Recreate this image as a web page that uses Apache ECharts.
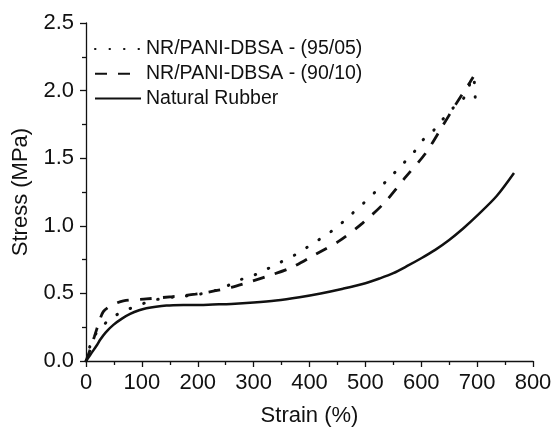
<!DOCTYPE html>
<html>
<head>
<meta charset="utf-8">
<script src="https://cdn.jsdelivr.net/npm/echarts@6/dist/echarts.min.js"></script>
<style>html,body{margin:0;padding:0;background:#fff}#c{width:554px;height:427px}</style>
</head>
<body>
<div id="c"></div>
<script>
const seriesNames = ['NR/PANI-DBSA - (95/05)', 'NR/PANI-DBSA - (90/10)', 'Natural Rubber'];
const xTicks = [0, 100, 200, 300, 400, 500, 600, 700, 800];
const yTicks = [0.0, 0.5, 1.0, 1.5, 2.0, 2.5];

const dotted9505 = [[0,0],[5,0.08],[12.5,0.17],[30,0.26],[49,0.328],[73,0.378],[96,0.415],[117,0.445],[144,0.468],[167,0.476],[200,0.492],[230,0.52],[250,0.55],[272,0.595],[298,0.63],[321,0.674],[347,0.728],[374,0.785],[398,0.847],[421,0.909],[447,0.983],[472,1.074],[497,1.168],[520,1.26],[543,1.353],[567,1.457],[588,1.55],[605,1.644],[623,1.71],[638,1.785],[659,1.88],[677,1.95],[693,2.1],[696,1.98],[698,1.87]];
const dashed9010 = [[0,0],[7,0.08],[15,0.18],[22,0.27],[31,0.365],[45,0.41],[67,0.444],[108,0.459],[155,0.476],[196,0.494],[232,0.52],[260,0.545],[281,0.57],[323,0.625],[367,0.69],[409,0.785],[454,0.89],[495,1.02],[534,1.17],[573,1.365],[608,1.538],[637,1.73],[662,1.9],[687,2.06],[693,2.1]];
const naturalRubber = [[0,0],[5,0.03],[10,0.06],[20,0.12],[25,0.155],[35,0.21],[49,0.267],[65,0.315],[79,0.348],[95,0.375],[108,0.39],[125,0.402],[144,0.41],[175,0.414],[204,0.415],[227,0.418],[260,0.422],[300,0.432],[340,0.447],[382,0.472],[420,0.5],[460,0.535],[500,0.575],[525,0.61],[550,0.65],[575,0.703],[600,0.76],[625,0.822],[650,0.895],[675,0.98],[700,1.075],[735,1.22],[766,1.39]];

const ink = '#111';
const chart = echarts.init(document.getElementById('c'), null, {renderer: 'canvas'});
const font = 'Liberation Sans, Arial, sans-serif';
chart.setOption({
  animation: false,
  backgroundColor: '#fff',
  grid: {left: 86, right: 21, top: 23, bottom: 66, containLabel: false, outerBoundsMode: 'none'},
  legend: {
    left: 89, top: 34, orient: 'vertical',
    itemWidth: 46, itemHeight: 14, itemGap: 4.7,
    itemStyle: {color: 'transparent', borderColor: 'transparent', borderWidth: 0},
    textStyle: {fontFamily: font, fontSize: 19.5, color: ink, lineHeight: 20},
    data: seriesNames
  },
  xAxis: {
    type: 'value', min: xTicks[0], max: xTicks[xTicks.length - 1], interval: 100,
    name: 'Strain (%)', nameLocation: 'middle', nameGap: 44,
    nameTextStyle: {fontFamily: font, fontSize: 22, color: ink},
    axisLine: {lineStyle: {color: ink, width: 1.3}},
    axisTick: {show: true, length: 6, lineStyle: {color: ink, width: 1.3}},
    minorTick: {show: true, splitNumber: 2, length: 4, lineStyle: {color: ink, width: 1.3}},
    splitLine: {show: false},
    axisLabel: {fontFamily: font, fontSize: 22, color: ink, margin: 11}
  },
  yAxis: {
    type: 'value', min: yTicks[0], max: yTicks[yTicks.length - 1], interval: 0.5,
    name: 'Stress (MPa)', nameLocation: 'middle', nameGap: 54, nameRotate: 90,
    nameTextStyle: {fontFamily: font, fontSize: 22, color: ink},
    axisLine: {show: true, lineStyle: {color: ink, width: 1.3}},
    axisTick: {show: true, length: 6, lineStyle: {color: ink, width: 1.3}},
    minorTick: {show: true, splitNumber: 2, length: 4, lineStyle: {color: ink, width: 1.3}},
    splitLine: {show: false},
    axisLabel: {fontFamily: font, fontSize: 22, color: ink, margin: 12, formatter: v => v.toFixed(1)}
  },
  series: [
    {name: seriesNames[0], type: 'line', data: dotted9505, showSymbol: false, symbol: 'none', smooth: 0.3,
     lineStyle: {color: ink, width: 3, type: [0.5, 14], cap: 'round'}, itemStyle: {color: ink}},
    {name: seriesNames[1], type: 'line', data: dashed9010, showSymbol: false, symbol: 'none', smooth: 0.3,
     lineStyle: {color: ink, width: 2.8, type: [12, 11]}, itemStyle: {color: ink}},
    {name: seriesNames[2], type: 'line', data: naturalRubber, showSymbol: false, symbol: 'none', smooth: 0.3,
     lineStyle: {color: ink, width: 2.5, type: 'solid'}, itemStyle: {color: ink}}
  ]
});
</script>
</body>
</html>
